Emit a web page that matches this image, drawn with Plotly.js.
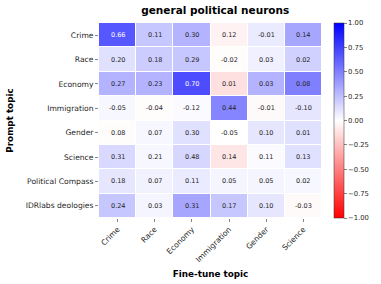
<!DOCTYPE html>
<html>
<head>
<meta charset="utf-8">
<script src="https://cdn.plot.ly/plotly-3.0.1.min.js"></script>
<style>html,body{margin:0;padding:0;background:#fff;}#chart{width:381px;height:284px;}</style>
</head>
<body>
<div id="chart"></div>
<script>
const fineTuneTopics = ["Crime", "Race", "Economy", "Immigration", "Gender", "Science"];
const promptTopics = ["Crime", "Race", "Economy", "Immigration", "Gender", "Science", "Political Compass", "IDRlabs deologies"];
// values printed in the cells
const cellLabels = [
  [0.66, 0.11, 0.30, 0.12, -0.01, 0.14],
  [0.20, 0.18, 0.29, -0.02, 0.03, 0.02],
  [0.27, 0.23, 0.70, 0.01, 0.03, 0.08],
  [-0.05, -0.04, -0.12, 0.44, -0.01, -0.10],
  [0.08, 0.07, 0.30, -0.05, 0.10, 0.01],
  [0.31, 0.21, 0.48, 0.14, 0.11, 0.13],
  [0.18, 0.07, 0.11, 0.05, 0.05, 0.02],
  [0.24, 0.03, 0.31, 0.17, 0.10, -0.03]
];
// values (colour scale -1..1)
const cellColours = [
  [0.66, 0.22, 0.30, -0.05, 0.08, 0.35],
  [0.12, 0.20, 0.22, -0.01, 0.06, 0.18],
  [0.30, 0.30, 0.70, -0.12, 0.30, 0.50],
  [0.03, -0.01, 0.02, 0.48, -0.02, 0.10],
  [-0.01, 0.03, 0.12, 0.00, 0.10, 0.12],
  [0.15, 0.03, 0.16, -0.10, 0.02, 0.12],
  [0.10, 0.05, 0.08, 0.04, 0.04, 0.03],
  [0.22, 0.04, 0.35, 0.22, 0.10, -0.02]
];
const colourTicks = [-1, -0.75, -0.5, -0.25, 0, 0.25, 0.5, 0.75, 1];

const fmt = v => (v < 0 ? "-" : "") + Math.abs(v).toFixed(2);
const annotations = [];
promptTopics.forEach((p, i) => {
  fineTuneTopics.forEach((f, j) => {
    annotations.push({
      x: f, y: p, xref: "x", yref: "y", text: fmt(cellLabels[i][j]), showarrow: false,
      font: {family: "DejaVu Sans", size: 6.5, color: cellColours[i][j] > 0.6 ? "#ffffff" : "#262626"}
    });
  });
});

const trace = {
  type: "heatmap",
  x: fineTuneTopics,
  y: promptTopics,
  z: cellColours,
  zmin: -1, zmax: 1,
  colorscale: [[0, "rgb(255,0,0)"], [0.5, "rgb(255,255,255)"], [1, "rgb(0,0,255)"]],
  xgap: 1, ygap: 1,
  hoverinfo: "skip",
  colorbar: {
    x: 1.052, xanchor: "left", y: 0.5, yanchor: "middle", len: 1.0, lenmode: "fraction",
    thickness: 10, xpad: 0, ypad: 0, outlinewidth: 0.5, outlinecolor: "#333",
    tickvals: colourTicks, ticktext: colourTicks.map(v => (v < 0 ? "\u2212" : "") + Math.abs(v).toFixed(2)),
    ticks: "outside", ticklen: 3, tickwidth: 0.6, tickcolor: "#333",
    tickfont: {family: "DejaVu Sans", size: 6.8, color: "#262626"}
  }
};

const layout = {
  width: 381, height: 284,
  margin: {l: 99, r: 51, t: 23, b: 66},
  paper_bgcolor: "#fff", plot_bgcolor: "#fff",
  font: {family: "DejaVu Sans", color: "#262626"},
  title: {text: "<b>general political neurons</b>", x: 0.565, xanchor: "center", y: 0.962, yanchor: "middle",
          font: {family: "DejaVu Sans", size: 10.5, color: "#000"}},
  xaxis: {
    type: "category", tickangle: -45, ticks: "outside", ticklen: 3, tickwidth: 0.6, tickcolor: "#333",
    tickfont: {family: "DejaVu Sans", size: 7.6, color: "#262626"}, showgrid: false, zeroline: false,
    title: {text: "<b>Fine-tune topic</b>", font: {family: "DejaVu Sans", size: 8.8, color: "#000"}, standoff: 7}
  },
  yaxis: {
    type: "category", autorange: "reversed", ticks: "outside", ticklen: 3, tickwidth: 0.6, tickcolor: "#333",
    tickfont: {family: "DejaVu Sans", size: 7.6, color: "#262626"}, showgrid: false, zeroline: false,
    title: {text: "<b>Prompt topic</b>", font: {family: "DejaVu Sans", size: 8.8, color: "#000"}, standoff: 10}
  },
  annotations: annotations
};

Plotly.newPlot("chart", [trace], layout, {staticPlot: true, displayModeBar: false});
</script>
</body>
</html>
